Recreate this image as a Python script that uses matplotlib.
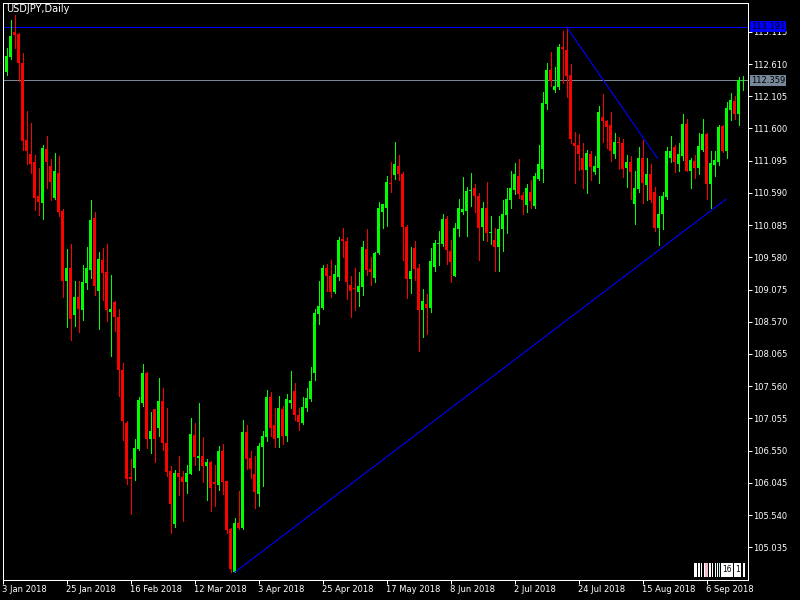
import matplotlib
matplotlib.use('Agg')
import matplotlib.pyplot as plt
from matplotlib.patches import Rectangle
import matplotlib.transforms as mtransforms

# ---------------- data (USDJPY daily candles) ----------------
opens = [112.263, 112.491, 112.718, 113.105, 113.083, 112.627, 111.421, 111.205, 111.080, 110.534,
         110.426, 111.285, 111.017, 110.517, 110.909, 110.312, 109.208, 109.407, 108.679, 108.952,
         108.753, 109.174, 109.379, 110.204, 109.049, 109.533, 109.345, 108.719, 108.878, 108.651,
         107.809, 106.984, 106.136, 106.278, 106.574, 107.291, 107.769, 106.728, 107.200, 106.904,
         107.331, 106.671, 106.233, 105.397, 106.199, 106.136, 106.062, 106.187, 106.790, 106.432,
         106.460, 106.307, 106.370, 106.057, 106.017, 106.540, 106.074, 105.323, 104.651, 105.414,
         105.334, 106.847, 106.432, 106.187, 105.875, 106.603, 106.762, 107.388, 106.955, 106.745,
         107.200, 106.773, 107.297, 107.485, 107.115, 106.984, 107.217, 107.354, 107.769, 108.691,
         108.793, 109.407, 109.288, 109.038, 109.277, 109.874, 109.834, 109.151, 109.100, 109.038,
         109.117, 109.703, 109.390, 109.260, 109.646, 110.289, 110.357, 110.750, 110.864, 111.012,
         110.892, 110.062, 109.237, 109.732, 109.407, 108.747, 108.850, 108.793, 109.436, 109.789,
         109.789, 110.187, 109.686, 109.288, 110.016, 110.295, 110.301, 110.614, 110.670, 110.545,
         110.062, 110.346, 109.959, 109.857, 109.749, 110.016, 110.238, 110.483, 110.642, 110.852,
         110.562, 110.403, 110.596, 110.380, 110.801, 110.972, 111.979, 112.519, 112.195, 112.252,
         112.872, 112.832, 112.434, 111.370, 111.347, 111.131, 110.955, 111.205, 110.921, 110.983,
         111.785, 111.711, 111.660, 111.199, 111.393, 111.376, 110.983, 111.080, 110.420, 110.648,
         111.143, 110.716, 110.892, 110.596, 110.045, 110.266, 110.528, 111.137, 111.308, 111.040,
         111.171, 111.666, 110.926, 111.097, 110.983, 111.268, 111.518, 110.733, 111.023, 111.069,
         111.632, 111.239, 111.894, 112.024, 111.825, 112.345]
highs = [112.548, 112.861, 113.299, 113.373, 113.094, 112.787, 111.876, 111.689, 111.182, 110.983,
         111.342, 111.484, 111.126, 111.222, 111.171, 110.340, 109.703, 109.789, 109.203, 109.203,
         109.453, 109.743, 110.483, 110.284, 109.658, 109.720, 109.783, 109.305, 108.890, 108.776,
         107.923, 107.012, 106.421, 106.728, 107.388, 107.900, 107.786, 107.155, 107.210, 107.684,
         107.524, 107.211, 106.307, 106.244, 106.472, 106.227, 106.330, 107.058, 106.984, 107.297,
         106.762, 106.415, 106.380, 106.330, 106.625, 106.654, 106.080, 105.334, 105.493, 105.914,
         107.029, 106.955, 106.540, 106.460, 106.671, 106.859, 107.496, 107.467, 107.211, 107.399,
         107.246, 107.439, 107.792, 107.610, 107.217, 107.388, 107.524, 107.854, 108.765, 109.203,
         109.464, 109.476, 109.544, 109.453, 109.891, 110.033, 109.891, 109.288, 109.407, 109.356,
         109.828, 110.016, 109.578, 109.669, 110.454, 110.420, 110.858, 111.080, 111.393, 111.182,
         110.921, 110.079, 109.749, 109.828, 109.470, 109.077, 108.998, 109.732, 109.857, 109.999,
         110.266, 110.221, 109.857, 110.119, 110.500, 110.841, 110.687, 110.909, 110.733, 110.585,
         110.454, 110.767, 110.221, 110.045, 110.221, 110.483, 110.665, 110.938, 111.063, 111.126,
         110.602, 110.733, 110.784, 110.909, 111.347, 112.172, 112.627, 112.804, 112.565, 112.923,
         113.128, 113.191, 112.605, 111.541, 111.512, 111.376, 111.256, 111.251, 111.171, 111.950,
         112.144, 111.734, 111.859, 111.535, 111.473, 111.438, 111.182, 111.171, 110.938, 111.313,
         111.421, 111.131, 111.046, 110.687, 110.540, 110.602, 111.308, 111.478, 111.342, 111.364,
         111.825, 111.751, 111.143, 111.188, 111.535, 111.751, 111.535, 111.251, 111.251, 111.649,
         111.649, 112.007, 112.161, 112.110, 112.406, 112.428]
lows = [112.235, 112.445, 112.690, 112.861, 112.349, 111.256, 111.040, 110.898, 110.318, 110.244,
        110.175, 110.670, 110.483, 110.488, 110.232, 108.958, 108.480, 108.281, 108.509, 108.406,
        108.594, 109.077, 109.260, 108.992, 108.463, 108.907, 108.583, 108.036, 108.423, 107.411,
        106.717, 106.034, 105.550, 106.091, 106.557, 107.257, 106.591, 106.517, 106.375, 106.785,
        106.563, 106.148, 105.254, 105.357, 105.852, 105.454, 105.892, 106.176, 106.318, 106.250,
        106.062, 105.778, 105.607, 105.687, 105.937, 105.875, 105.266, 104.640, 104.640, 105.323,
        105.323, 106.267, 106.119, 105.653, 105.687, 105.988, 106.705, 106.773, 106.614, 106.614,
        106.654, 106.705, 107.211, 107.029, 106.876, 106.973, 107.172, 107.331, 107.655, 108.531,
        108.765, 109.049, 108.958, 109.021, 109.220, 109.584, 108.924, 108.645, 108.759, 108.816,
        108.992, 109.305, 109.146, 109.191, 109.630, 110.039, 110.067, 110.602, 110.801, 110.796,
        109.544, 108.935, 109.021, 109.220, 108.110, 108.338, 108.378, 108.719, 109.362, 109.459,
        109.760, 109.476, 109.191, 109.280, 109.914, 110.255, 109.914, 110.386, 110.289, 109.538,
        109.845, 109.834, 109.789, 109.362, 109.362, 109.675, 109.959, 110.357, 110.568, 110.505,
        110.266, 110.289, 110.357, 110.346, 110.784, 110.756, 111.905, 112.263, 112.178, 112.218,
        112.320, 112.093, 111.364, 110.739, 110.943, 110.670, 110.585, 110.796, 110.887, 110.739,
        111.381, 111.296, 111.091, 111.143, 110.972, 110.841, 110.687, 110.500, 110.101, 110.596,
        110.426, 110.471, 110.443, 109.999, 109.772, 110.016, 110.500, 111.080, 110.921, 110.938,
        111.108, 110.930, 110.670, 110.830, 110.892, 111.251, 110.500, 110.357, 110.852, 111.023,
        111.228, 111.143, 111.734, 111.751, 111.649, 112.206]
closes = [112.502, 112.736, 113.043, 113.071, 112.633, 111.410, 111.251, 111.040, 110.505, 110.454,
          111.296, 111.080, 110.767, 110.938, 110.289, 109.208, 109.419, 108.611, 108.964, 108.765,
          109.186, 109.407, 110.158, 109.134, 109.561, 109.333, 108.747, 108.776, 108.639, 107.814,
          107.018, 106.108, 106.108, 106.586, 107.337, 107.763, 106.734, 106.859, 106.734, 107.331,
          106.671, 106.216, 105.721, 106.199, 106.131, 106.062, 106.199, 106.813, 106.443, 106.460,
          106.307, 106.370, 105.971, 106.022, 106.540, 106.062, 105.306, 104.697, 105.414, 105.334,
          106.847, 106.415, 106.261, 105.903, 106.620, 106.773, 107.388, 106.904, 106.728, 107.211,
          106.773, 107.354, 107.337, 107.115, 106.995, 107.229, 107.371, 107.638, 108.702, 108.810,
          109.419, 109.294, 109.038, 109.322, 109.857, 109.834, 109.191, 109.049, 109.077, 109.134,
          109.749, 109.385, 109.350, 109.641, 110.346, 110.409, 110.767, 110.733, 111.046, 110.881,
          110.062, 109.237, 109.373, 109.390, 108.747, 108.901, 108.787, 109.516, 109.811, 109.800,
          110.187, 109.692, 109.504, 110.033, 110.357, 110.340, 110.625, 110.642, 110.540, 110.045,
          110.357, 109.959, 109.982, 109.749, 110.028, 110.266, 110.500, 110.670, 110.892, 110.568,
          110.471, 110.659, 110.460, 110.847, 111.046, 112.002, 112.519, 112.337, 112.269, 112.878,
          112.844, 112.423, 111.427, 111.330, 111.194, 110.955, 111.222, 111.000, 111.012, 111.859,
          111.711, 111.626, 111.251, 111.393, 111.364, 110.961, 111.080, 110.915, 110.659, 111.143,
          110.744, 110.892, 110.483, 110.045, 110.266, 110.545, 111.251, 111.251, 111.069, 111.194,
          111.666, 110.938, 111.103, 110.983, 111.325, 111.518, 110.733, 111.063, 111.103, 111.626,
          111.239, 111.922, 112.047, 111.825, 112.360, 112.359]

date_labels = ['3 Jan 2018', '25 Jan 2018', '16 Feb 2018', '12 Mar 2018', '3 Apr 2018',
               '25 Apr 2018', '17 May 2018', '8 Jun 2018', '2 Jul 2018', '24 Jul 2018',
               '15 Aug 2018', '6 Sep 2018']
date_bars = [0, 16, 32, 48, 64, 80, 96, 112, 128, 144, 160, 176]

price_ticks = [113.115, 112.610, 112.105, 111.600, 111.095, 110.590, 110.085, 109.580,
               109.075, 108.570, 108.065, 107.560, 107.055, 106.550, 106.045, 105.540, 105.035]

hline_level = 113.191
bid_level = 112.359

up_trend_x = [58, 180.85]
up_trend_y = [104.640, 110.49]
down_trend_x = [141, 163.75]
down_trend_y = [113.191, 111.13]

# ---------------- figure ----------------
W, H = 800, 600
fig = plt.figure(figsize=(8, 6), dpi=100, facecolor='black')
L, R, T, B = 2.5, 747.5, 2.5, 579.5
ax = fig.add_axes([L / W, 1 - B / H, (R - L) / W, (B - T) / H])
ax.set_facecolor('black')
ax.set_xlim(0, 186.25)
ax.set_ylim(104.530, 113.574)

PX = 0.72  # one pixel in points
BULL = '#00FF00'
BEAR = '#FF0000'

# horizontal lines (behind candles)
ax.axhline(hline_level, color='#0000FF', lw=PX, zorder=1, antialiased=False)
ax.axhline(bid_level, color='#778899', lw=PX, zorder=1, antialiased=False)

xs = list(range(len(opens)))
cols = [BULL if c >= o else BEAR for o, c in zip(opens, closes)]
min_h = (113.574 - 104.530) / (B - T)
ax.vlines(xs, lows, highs, colors=cols, lw=PX, zorder=2, antialiased=False)
bottoms = [min(o, c) for o, c in zip(opens, closes)]
heights = [max(abs(c - o), min_h) for o, c in zip(opens, closes)]
ax.bar(xs, heights, bottom=bottoms, width=0.75, color=cols, linewidth=0,
       zorder=2.1, antialiased=False)

# trend lines (thin blue)
for tx, ty in [(up_trend_x, up_trend_y), (down_trend_x, down_trend_y)]:
    ax.plot(tx, ty, color='#0000FF', lw=0.8, ls='-', zorder=3, antialiased=True)

# spines
for s in ax.spines.values():
    s.set_color('white')
    s.set_linewidth(PX)

FONT = 'DejaVu Sans'
FS = 6

# x ticks
ax.set_xticks(date_bars)
ax.set_xticklabels(date_labels, fontsize=FS, color='white', family=FONT)
for lbl in ax.get_xticklabels():
    lbl.set_ha('left')
ax.tick_params(axis='x', colors='white', direction='out', length=3, width=PX, pad=1)

# y ticks on the right
ax.yaxis.tick_right()
ax.set_yticks(price_ticks)
ax.set_yticklabels(['%.3f' % v for v in price_ticks], fontsize=FS, color='white', family=FONT)
ax.tick_params(axis='y', colors='white', direction='out', length=3, width=PX, pad=1)
ax.tick_params(axis='y', which='both', left=False)

# price labels on the right axis
trans = mtransforms.blended_transform_factory(ax.transAxes, ax.transData)
for lvl, fc in [(hline_level, '#0000FF'), (bid_level, '#778899')]:
    ax.annotate('%.3f' % lvl, xy=(1.0, lvl), xycoords=trans, xytext=(2.6, 0),
                textcoords='offset points', ha='left', va='center', fontsize=FS,
                family=FONT, color='black', annotation_clip=False, zorder=5,
                bbox=dict(boxstyle='square,pad=0.12', fc=fc, ec='none'))

# title
fig.text(6 / W, 1 - 4.5 / H, 'USDJPY,Daily', color='white', fontsize=7,
         family=FONT, ha='left', va='top')

# small widget in the bottom-right corner
widget = [(694.0, 696.7, 'white'), (698.3, 699.5, 'white'), (701.0, 702.4, 'white'),
          (704.3, 705.2, 'white'), (705.2, 708.3, '#F4B6C2'), (709.3, 710.8, 'white'),
          (712.3, 713.4, 'white'), (714.7, 716.0, 'white'), (717.3, 718.4, 'white'),
          (719.0, 720.4, '#BFEFEF'), (720.8, 733.3, 'white'), (734.0, 741.4, 'white'),
          (742.7, 745.0, 'white')]
wy0, wy1 = 562.7, 576.7
for x0, x1, c in widget:
    fig.add_artist(Rectangle((x0 / W, 1 - wy1 / H), (x1 - x0) / W, (wy1 - wy0) / H,
                             transform=fig.transFigure, fc=c, ec='none', zorder=6))
fig.text(727.0 / W, 1 - 569.7 / H, '16', color='black', fontsize=5.5, family=FONT,
         ha='center', va='center', zorder=7)
fig.text(737.7 / W, 1 - 569.7 / H, '1', color='black', fontsize=5.5, family=FONT,
         ha='center', va='center', zorder=7)

fig.savefig('out.png', dpi=100, facecolor='black')
